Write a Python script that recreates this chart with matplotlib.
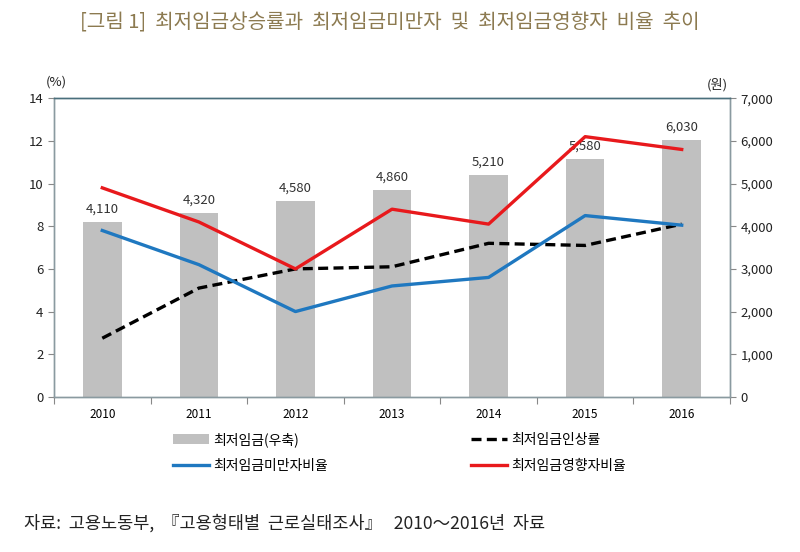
import matplotlib
matplotlib.use("Agg")
import matplotlib.pyplot as plt
import numpy as np

plt.rcParams['font.family'] = ['Noto Sans CJK KR', 'DejaVu Sans']

years = ['2010', '2011', '2012', '2013', '2014', '2015', '2016']
min_wage = [4110, 4320, 4580, 4860, 5210, 5580, 6030]
increase_rate = [2.75, 5.1, 6.0, 6.1, 7.2, 7.1, 8.1]
below_ratio = [7.8, 6.2, 4.0, 5.2, 5.6, 8.5, 8.05]
affected_ratio = [9.8, 8.2, 6.0, 8.8, 8.1, 12.2, 11.6]
wage_labels = ['4,110', '4,320', '4,580', '4,860', '5,210', '5,580', '6,030']

fig = plt.figure(figsize=(8, 5.52), dpi=100)
ax = fig.add_axes([0.0675, 0.281, 0.845, 0.541])
ax2 = ax.twinx()
ax.set_zorder(2)
ax.patch.set_visible(False)

x = np.arange(len(years))
bars = ax2.bar(x, min_wage, width=0.4, color='#c0c0c0', zorder=1)
for xi, v, lab in zip(x, min_wage, wage_labels):
    ax2.text(xi, v + 150, lab, ha='center', va='bottom', fontsize=9.5, color='#333333')
ax2.set_ylim(0, 7000)
ax2.set_yticks(range(0, 7001, 1000))
ax2.set_yticklabels([f'{v:,}' for v in range(0, 7001, 1000)])

l1, = ax.plot(x, increase_rate, color='black', lw=2.4, ls=(0, (3, 1.6)))
l2, = ax.plot(x, below_ratio, color='#1f78c0', lw=2.4)
l3, = ax.plot(x, affected_ratio, color='#e8191c', lw=2.4)

ax.set_xlim(-0.5, len(years) - 0.5)
ax.set_ylim(0, 14)
ax.set_yticks(range(0, 15, 2))
ax.set_xticks(np.arange(-0.5, len(years), 1.0), minor=False)
ax.set_xticklabels([])
ax.set_xticks(x, minor=True)
ax.set_xticklabels(years, minor=True)
ax.tick_params(axis='x', which='minor', length=0, labelsize=8.5, pad=8)
ax.tick_params(axis='x', which='major', length=5, color='#888888')
ax.tick_params(axis='y', labelsize=9.5, length=4, color='#888888', colors='#222222')
ax2.tick_params(axis='y', labelsize=9.5, length=4, color='#888888', colors='#222222')

for a in (ax, ax2):
    for s in a.spines.values():
        s.set_color('#8a9aa0')
        s.set_linewidth(1.0)
ax.spines['top'].set_color('#4a6f7c')
ax2.spines['top'].set_color('#4a6f7c')

fig.text(0.07, 0.845, '(%)', fontsize=9.5, ha='center', color='#222222')
fig.text(0.897, 0.84, '(원)', fontsize=9.5, ha='center', color='#222222')

fig.text(0.487, 0.958, '[그림 1]  최저임금상승률과  최저임금미만자  및  최저임금영향자  비율  추이',
         ha='center', va='center', fontsize=14.5, color='#8c7a50')

leg = fig.legend([bars, l2, l1, l3], ['최저임금(우축)', '최저임금미만자비율', '최저임금인상률', '최저임금영향자비율'],
                 ncol=2, loc='upper left', bbox_to_anchor=(0.2, 0.24), frameon=False,
                 fontsize=10, columnspacing=10.3, handlelength=2.6, handletextpad=0.3,
                 labelspacing=0.9)

fig.text(0.03, 0.052, '자료:  고용노동부,  『고용형태별  근로실태조사』   2010～2016년  자료',
         fontsize=12.6, ha='left', va='center', color='#222222')

fig.savefig('out.png', dpi=100)
